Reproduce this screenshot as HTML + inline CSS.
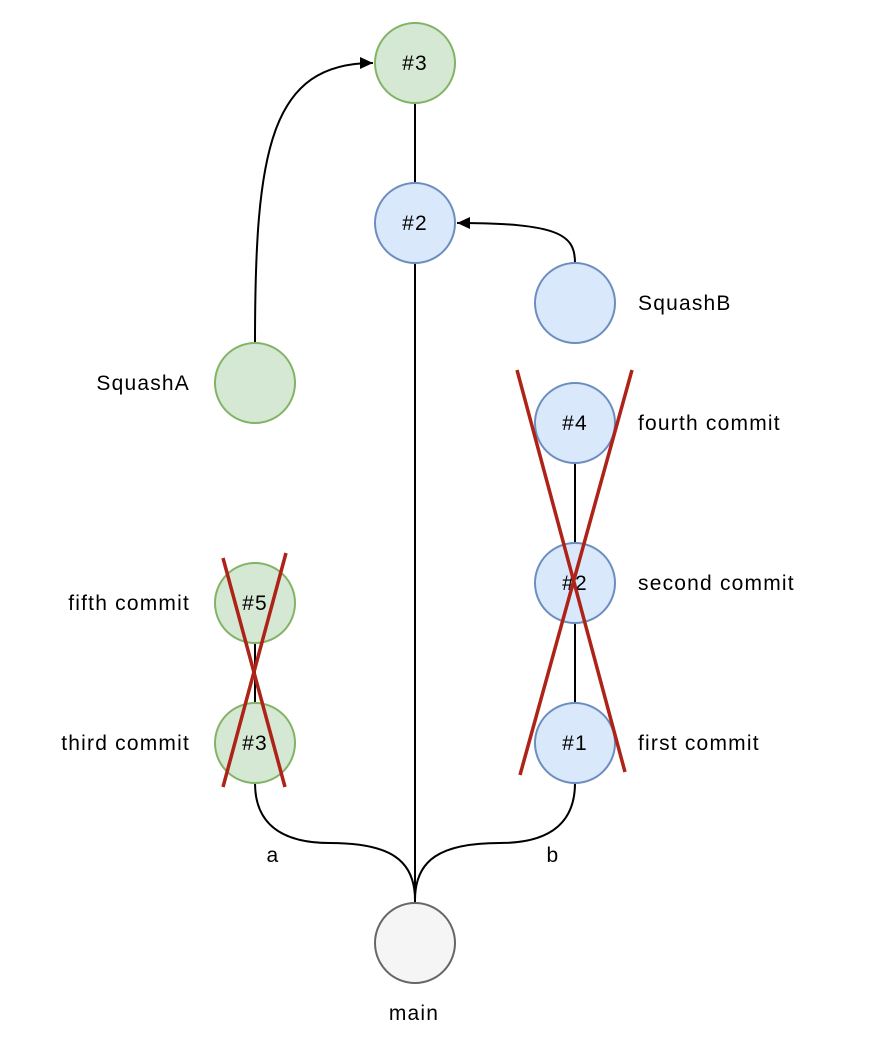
<!DOCTYPE html>
<html><head><meta charset="utf-8"><style>
html,body{margin:0;padding:0;background:#fff;}
svg{display:block;}
text{font-family:"Liberation Sans",Helvetica,Arial,sans-serif;font-size:21px;letter-spacing:1.2px;fill:#000;}
</style></head><body>
<svg width="874" height="1048" viewBox="0 0 874 1048">
<defs><marker id="ah" markerWidth="14" markerHeight="14" refX="13" refY="6" orient="auto" markerUnits="userSpaceOnUse"><path d="M0,0 L13,6 L0,12 z" fill="#000"/></marker></defs>
<g stroke="#000" stroke-width="2" fill="none">
<line x1="415" y1="103" x2="415" y2="183"/>
<line x1="415" y1="263" x2="415" y2="903"/>
<line x1="255" y1="643" x2="255" y2="703"/>
<line x1="575" y1="463" x2="575" y2="543"/>
<line x1="575" y1="623" x2="575" y2="703"/>
<path d="M255 783 C255 830 290 843 330 843 C390 843 415 860 415 900"/>
<path d="M575 783 C575 830 540 843 500 843 C440 843 415 860 415 900"/>
<path d="M255 343 C255 150 270 63 373 63" marker-end="url(#ah)"/>
<path d="M575 263 C575 235 560 223 457 223" marker-end="url(#ah)"/>
</g>
<g stroke-width="2">
<circle cx="415" cy="63" r="40" fill="#d5e8d4" stroke="#82b366"/>
<circle cx="415" cy="223" r="40" fill="#dae8fc" stroke="#6c8ebf"/>
<circle cx="575" cy="303" r="40" fill="#dae8fc" stroke="#6c8ebf"/>
<circle cx="255" cy="383" r="40" fill="#d5e8d4" stroke="#82b366"/>
<circle cx="575" cy="423" r="40" fill="#dae8fc" stroke="#6c8ebf"/>
<circle cx="575" cy="583" r="40" fill="#dae8fc" stroke="#6c8ebf"/>
<circle cx="575" cy="743" r="40" fill="#dae8fc" stroke="#6c8ebf"/>
<circle cx="255" cy="603" r="40" fill="#d5e8d4" stroke="#82b366"/>
<circle cx="255" cy="743" r="40" fill="#d5e8d4" stroke="#82b366"/>
<circle cx="415" cy="943" r="40" fill="#f5f5f5" stroke="#666666"/>
</g>
<g text-anchor="middle">
<text x="415" y="70">#3</text>
<text x="415" y="230">#2</text>
<text x="575" y="430">#4</text>
<text x="575" y="590">#2</text>
<text x="575" y="750">#1</text>
<text x="255" y="610">#5</text>
<text x="255" y="750">#3</text>
<text x="273" y="862">a</text>
<text x="553" y="862">b</text>
<text x="414" y="1020">main</text>
</g>
<g text-anchor="end">
<text x="190" y="390">SquashA</text>
<text x="190" y="610">fifth commit</text>
<text x="190" y="750">third commit</text>
</g>
<g>
<text x="638" y="310">SquashB</text>
<text x="638" y="430">fourth commit</text>
<text x="638" y="590">second commit</text>
<text x="638" y="750">first commit</text>
</g>
<g stroke="#ae2318" stroke-width="3.5">
<line x1="223" y1="558" x2="285" y2="787"/>
<line x1="286" y1="553" x2="223" y2="787"/>
<line x1="517" y1="370" x2="625" y2="772"/>
<line x1="632" y1="370" x2="520" y2="775"/>
</g>
</svg>
</body></html>
